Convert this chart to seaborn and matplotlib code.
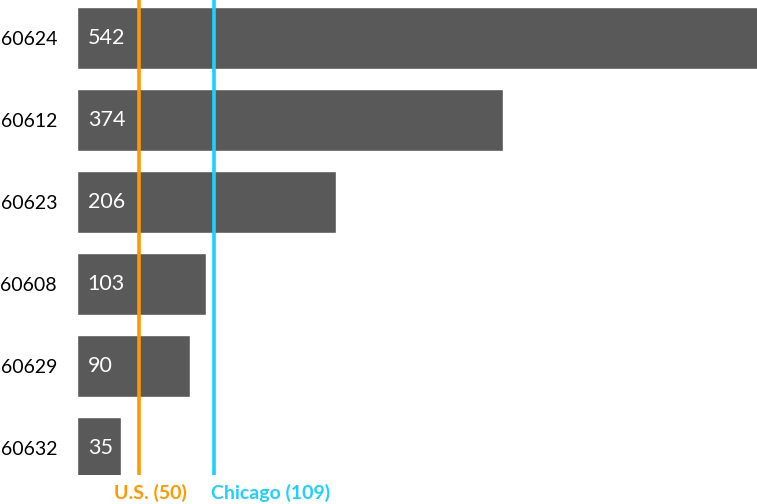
import matplotlib
matplotlib.use("Agg")
import matplotlib.pyplot as plt
import matplotlib.transforms as mtransforms
import seaborn as sns
import pandas as pd

# Data
zip_codes = ["60624", "60612", "60623", "60608", "60629", "60632"]
bar_lengths = [542, 339, 206, 103, 90, 35]
bar_labels = ["542", "374", "206", "103", "90", "35"]
ref_names = ["U.S. (50)", "Chicago (109)"]
ref_values = [50, 109]
ref_colors = ["#FF9900", "#1FCFFF"]

sns.set_theme(style="white")
plt.rcParams["font.family"] = ["Lato", "DejaVu Sans"]

df = pd.DataFrame({"zip": zip_codes, "value": bar_lengths})

fig = plt.figure(figsize=(7.57, 5.04), dpi=100)
ax = fig.add_axes([76.5 / 757, 29 / 504, 680.5 / 757, 475 / 504])

sns.barplot(data=df, x="value", y="zip", order=zip_codes, orient="h",
            color="#595959", saturation=1, width=0.756, ax=ax)

ax.set_xlim(0, 541)
ax.set_ylim(5.329, -0.463)

for i, lab in enumerate(bar_labels):
    ax.annotate(lab, xy=(0, i), xytext=(8, 0), textcoords="offset points",
                ha="left", va="center", color="white", fontsize=15.5)

trans = mtransforms.blended_transform_factory(ax.transData, ax.transAxes)
offsets = [8.8, 45]
for name, v, c, off in zip(ref_names, ref_values, ref_colors, offsets):
    ax.axvline(v, color=c, lw=2.6, zorder=5)
    ax.text(v + off, -0.038, name, transform=trans, ha="center", va="center",
            color=c, fontsize=14, fontweight="bold", clip_on=False)

ax.set_xlabel("")
ax.set_ylabel("")
ax.set_xticks([])
ax.tick_params(axis="y", length=0, pad=14, labelsize=14, labelcolor="black")
for s in ax.spines.values():
    s.set_visible(False)

fig.savefig("out.png", dpi=100)
